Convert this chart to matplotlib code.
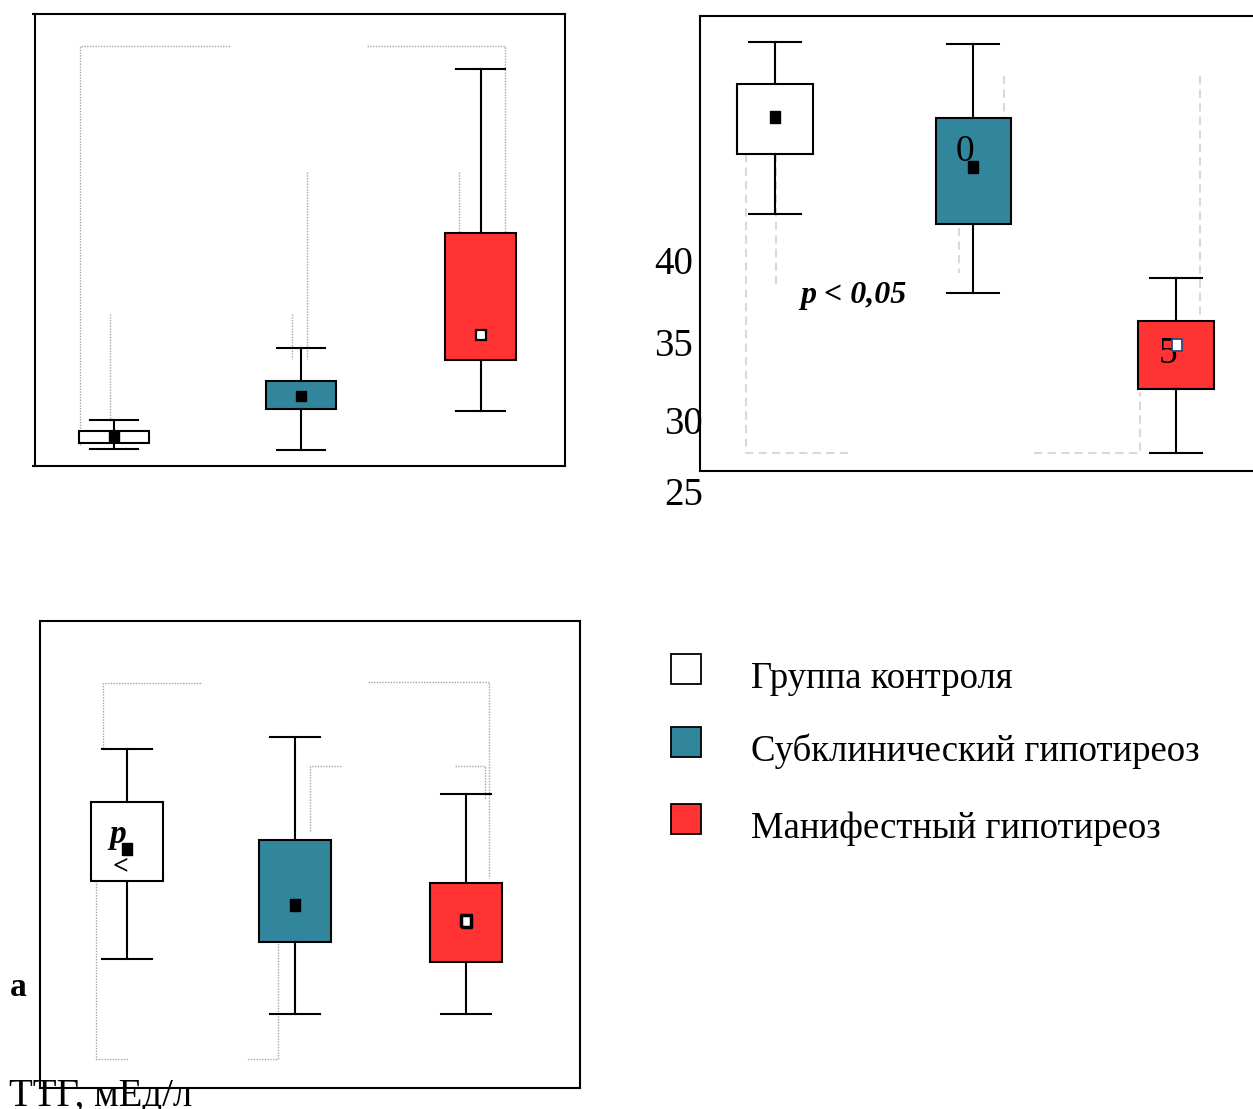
import matplotlib
matplotlib.use("Agg")
import matplotlib.pyplot as plt
from matplotlib.patches import Rectangle

plt.rcParams['font.family'] = ['Liberation Serif', 'DejaVu Serif']

W, H = 1253, 1109

GROUPS = ["Группа контроля", "Субклинический гипотиреоз", "Манифестный гипотиреоз"]
FILL = ["white", "#31869b", "#ff3333"]

# panel 1 - ТТГ
p1_whislo = [1.66, 1.57, 5.5]
p1_q1 = [2.25, 5.7, 10.64]
p1_q3 = [3.5, 8.54, 23.26]
p1_whishi = [4.6, 11.8, 39.65]
p1_mean = [3.0, 7.0, 13.1]

# panel 2 - scale 25..40
p2_whislo = [43.28, 38.03, 27.34]
p2_q1 = [47.29, 42.63, 31.59]
p2_q3 = [51.95, 49.69, 36.16]
p2_whishi = [54.72, 54.6, 38.97]
p2_mean = [49.71, 46.38, 34.54]
p2_ticks = ["40", "35", "30", "25"]

# panel 3
p3_whislo = [12.9, 7.4, 7.4]
p3_q1 = [20.7, 14.6, 12.6]
p3_q3 = [28.6, 24.8, 20.5]
p3_whishi = [33.9, 35.1, 29.4]
p3_mean = [23.9, 18.3, 16.7]

# leftover significance brackets (x in group units, y in data units)
p1_brackets = [
    [(0.814, 2.1), (0.814, 42.0), (1.639, 42.0)],
    [(2.383, 42.0), (3.131, 42.0), (3.131, 23.2)],
    [(0.981, 15.2), (0.981, 4.4)],
    [(1.973, 15.2), (1.973, 10.7)],
    [(2.055, 29.4), (2.055, 10.7)],
    [(2.880, 29.4), (2.880, 23.2)],
]
p2_brackets = [
    [(0.855, 47.27), (0.855, 27.33), (1.379, 27.33)],
    [(1.005, 47.27), (1.005, 38.53)],
    [(2.142, 52.47), (2.142, 49.47)],
    [(1.918, 42.33), (1.918, 39.33)],
    [(3.120, 52.47), (3.120, 36.27)],
    [(2.292, 27.33), (2.820, 27.33), (2.820, 31.4)],
]
p3_brackets = [
    [(0.861, 34.0), (0.861, 40.5), (1.442, 40.5)],
    [(2.422, 40.6), (3.136, 40.6), (3.136, 21.0)],
    [(2.080, 25.7), (2.080, 32.2), (2.268, 32.2)],
    [(2.935, 32.2), (3.112, 32.2), (3.112, 28.9)],
    [(0.817, 21.0), (0.817, 2.9), (1.006, 2.9)],
    [(1.891, 15.0), (1.891, 2.9), (1.705, 2.9)],
]

fig = plt.figure(figsize=(W / 100, H / 100), dpi=100)


def px_axes(x0, y0, x1, y1):
    return fig.add_axes([x0 / W, 1 - y1 / H, (x1 - x0) / W, (y1 - y0) / H])


def px_text(x, y, s, **kw):
    return fig.text(x / W, 1 - y / H, s, **kw)


def draw_boxes(ax, pos, lo, q1, q3, hi, width, capw):
    stats = [dict(med=(a + b) / 2, q1=a, q3=b, whislo=l, whishi=h, fliers=[])
             for l, a, b, h in zip(lo, q1, q3, hi)]
    art = ax.bxp(stats, positions=pos, widths=width, capwidths=capw,
                 patch_artist=True, showfliers=False, manage_ticks=False,
                 boxprops=dict(edgecolor="black", linewidth=1.5),
                 whiskerprops=dict(color="black", linewidth=1.5),
                 capprops=dict(color="black", linewidth=1.5),
                 medianprops=dict(linewidth=0))
    for box, c in zip(art["boxes"], FILL):
        box.set_facecolor(c)
        box.set_zorder(2)


def draw_brackets(ax, lines, **kw):
    for ln in lines:
        xs, ys = zip(*ln)
        ax.plot(xs, ys, zorder=1, **kw)


def frame(ax):
    ax.set_xticks([])
    for s in ax.spines.values():
        s.set_linewidth(1.5)


dotted = dict(color="#a6a6a6", linewidth=1.0, linestyle=(0, (1, 1)))
# slightly tall rectangle used for the mean markers
rect_marker = [(-0.42, -0.5), (0.42, -0.5), (0.42, 0.5), (-0.42, 0.5), (-0.42, -0.5)]

# ---- panel 1 ----
ax1 = px_axes(35, 14, 565, 466)
ax1.set_xlim(0.57, 3.46)
ax1.set_ylim(0, 45.2)
frame(ax1)
ax1.set_yticks([0, 45.2])
ax1.set_yticklabels([])
ax1.tick_params(axis="y", length=2, width=1.5)
draw_brackets(ax1, p1_brackets, **dotted)
pos1 = [1, 2.02, 3]
draw_boxes(ax1, pos1, p1_whislo, p1_q1, p1_q3, p1_whishi, 0.385, 0.265)
for i, (x, m) in enumerate(zip(pos1, p1_mean)):
    if i < 2:
        ax1.plot(x, m, "s", ms=7, color="black", zorder=4)
    else:
        ax1.plot(x, m, "s", ms=7, mfc="white", mec="black", mew=1.6, zorder=4)

# ---- panel 2 ----
ax2 = px_axes(700, 16, 1262, 471)
ax2.set_xlim(0.626, 3.43)
ax2.set_ylim(26.13, 56.47)
frame(ax2)
ax2.set_yticks([])
draw_brackets(ax2, p2_brackets, color="#d9d9d9", linewidth=1.5, linestyle=(0, (4, 2.5)))
pos2 = [1, 1.99, 3]
draw_boxes(ax2, pos2, p2_whislo, p2_q1, p2_q3, p2_whishi, 0.378, 0.26)
ax2.text(1.948, 47.4, "0", fontsize=27, ha="center", va="center", zorder=3)
ax2.text(2.96, 33.95, "5", fontsize=27, ha="center", va="center", zorder=3)
for i, (x, m) in enumerate(zip(pos2, p2_mean)):
    if i < 2:
        ax2.plot(x, m, marker=rect_marker, ms=8.5, color="black", zorder=4)
    else:
        ax2.plot(x + 0.005, m, marker=rect_marker, ms=9, mfc="white",
                 mec="#2b4a80", mew=1.3, zorder=4)
ax2.text(1.125, 37.33, "p < 0,05", fontsize=23, fontweight="bold", fontstyle="italic",
         ha="left", va="baseline")

# value labels of the left scale, set as loose text beside the frame
for s, (xr, yc) in zip(p2_ticks, [(693, 260.5), (693, 342), (703, 420), (703, 491)]):
    px_text(xr, yc, s, fontsize=28, ha="right", va="center_baseline")

# ---- panel 3 ----
ax3 = px_axes(40, 621, 580, 1088)
ax3.set_xlim(0.487, 3.673)
ax3.set_ylim(0, 46.7)
frame(ax3)
ax3.set_yticks([])
draw_brackets(ax3, p3_brackets, **dotted)
pos3 = [1, 1.99, 3]
draw_boxes(ax3, pos3, p3_whislo, p3_q1, p3_q3, p3_whishi, 0.425, 0.295)
ax3.text(0.945, 24.5, "p", fontsize=24, fontweight="bold", fontstyle="italic",
         ha="center", va="baseline", zorder=3)
ax3.text(0.965, 22.1, "<", fontsize=20, fontweight="bold", fontstyle="italic",
         ha="center", va="center", zorder=3)
for i, (x, m) in enumerate(zip(pos3, p3_mean)):
    if i < 2:
        ax3.plot(x, m, marker=rect_marker, ms=8.5, color="black", zorder=4)
    else:
        ax3.plot(x, m, marker=rect_marker, ms=8, mfc="white", mec="black", mew=2.5, zorder=4)

# ---- legend and captions ----
for name, c, yc in zip(GROUPS, FILL, [669, 742, 819]):
    fig.patches.append(Rectangle((671 / W, 1 - (yc + 15) / H), 30 / W, 30 / H,
                                 transform=fig.transFigure, facecolor=c,
                                 edgecolor="black", linewidth=1.3))
    px_text(751, yc + 19, name, fontsize=26.5, ha="left", va="baseline")

px_text(10, 996, "а", fontsize=24, fontweight="bold", va="baseline")
px_text(9, 1106, "ТТГ, мЕд/л", fontsize=28, va="baseline")

fig.savefig("out.png", dpi=100)
